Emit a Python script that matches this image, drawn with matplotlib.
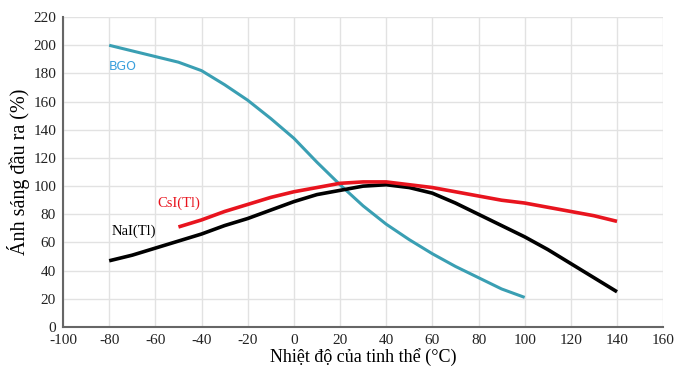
import matplotlib.pyplot as plt

# nhiet do (x) va anh sang dau ra (y) doc tu hinh
t_bgo = [-80, -70, -60, -50, -40, -30, -20, -10, 0, 10, 20, 30, 40, 50, 60, 70, 80, 90, 100]
bgo = [200, 196, 192, 188, 182, 172, 161, 148, 134, 117, 101, 86, 73, 62, 52, 43, 35, 27, 21]

t_csi = [-50, -40, -30, -20, -10, 0, 10, 20, 30, 40, 50, 60, 70, 80, 90, 100, 110, 120, 130, 140]
csi = [71, 76, 82, 87, 92, 96, 99, 102, 103, 103, 101, 99, 96, 93, 90, 88, 85, 82, 79, 75]

t_nai = [-80, -70, -60, -50, -40, -30, -20, -10, 0, 10, 20, 30, 40, 50, 60, 70, 80, 90, 100, 110, 120, 130, 140]
nai = [47, 51, 56, 61, 66, 72, 77, 83, 89, 94, 97, 100, 101, 99, 95, 88, 80, 72, 64, 55, 45, 35, 25]

xticks = list(range(-100, 161, 20))
yticks = list(range(0, 221, 20))

plt.rcParams['font.family'] = ['Liberation Serif', 'DejaVu Serif']
plt.rcParams['axes.unicode_minus'] = False

fig = plt.figure(figsize=(6.82, 3.72), dpi=100)
ax = fig.add_axes([0.0924, 0.121, 0.880, 0.833])

ax.plot(t_bgo, bgo, color='#3a9fb3', lw=2.2, solid_capstyle='butt', solid_joinstyle='round')
ax.plot(t_nai, nai, color='black', lw=2.6, solid_capstyle='butt', solid_joinstyle='round')
ax.plot(t_csi, csi, color='#e8141e', lw=2.6, solid_capstyle='butt', solid_joinstyle='round')

ax.text(-80, 185, 'BGO', color='#3aa0dc', fontsize=9, family='DejaVu Sans', va='center')
ax.text(-59, 88, 'CsI(Tl)', color='#e8141e', fontsize=10.5, va='center')
ax.text(-79, 68, 'NaI(Tl)', color='black', fontsize=10.5, va='center')

ax.set_xlim(-100, 160)
ax.set_ylim(0, 220)
ax.set_xticks(xticks)
ax.set_yticks(yticks)
ax.tick_params(length=0, labelsize=11, colors='#222222', pad=5)
ax.grid(True, color='#e2e2e2', lw=1)
ax.set_axisbelow(True)
for s in ['top', 'right']:
    ax.spines[s].set_visible(False)
for s in ['left', 'bottom']:
    ax.spines[s].set_color('#666666')
    ax.spines[s].set_linewidth(1.5)

ax.set_xlabel('Nhiệt độ của tinh thể (°C)', fontsize=13, labelpad=1)
ax.set_ylabel('Ánh sáng đầu ra (%)', fontsize=14.5, labelpad=2)

fig.savefig('out.png', dpi=100)
